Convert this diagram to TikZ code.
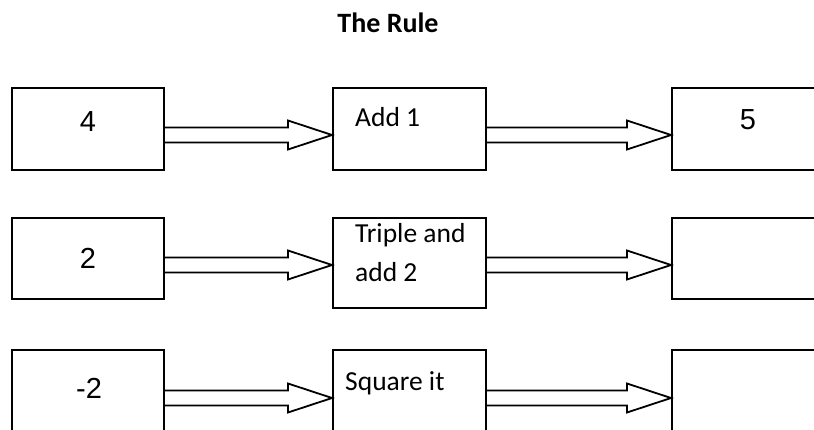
\documentclass[tikz,border=0pt]{standalone}
\usepackage{fontspec}
\setmainfont{Carlito}
\newfontfamily\handfont{Liberation Sans}
\usetikzlibrary{calc}
\newcommand\fatarr[3]{%
  \draw[fat] ($(#1.east |- #3)+(0,-7.5)$) -- ($(#2.west |- #3)+(-44,-7.5)$)
    -- ($(#2.west |- #3)+(-44,-14.5)$) -- (#2.west |- #3)
    -- ($(#2.west |- #3)+(-44,14.5)$) -- ($(#2.west |- #3)+(-44,7.5)$)
    -- ($(#1.east |- #3)+(0,7.5)$);}
\begin{document}
\begin{tikzpicture}[x=1pt,y=-1pt,
  box/.style={draw=black,line width=2pt,inner sep=0pt},
  fat/.style={draw=black,line width=1.8pt,line join=miter},
  num/.style={font=\handfont\fontsize{29}{29}\selectfont,inner sep=0pt},
  rule/.style={font=\fontsize{27.5}{32}\selectfont,inner sep=0pt,anchor=base west}]
\useasboundingbox (0,0) rectangle (814,430);
\clip (0,0) rectangle (814,430);
% title
\node[font=\bfseries\fontsize{28}{28}\selectfont,anchor=base,inner sep=0pt] (title) at (388,33) {The Rule};
% row 1
\node[box,minimum width=152pt,minimum height=82pt] (L1) at (88,129) {};
\node[box,minimum width=153pt,minimum height=82pt] (M1) at (409.5,129) {};
\node[box,minimum width=160pt,minimum height=82pt] (R1) at (752,129) {};
% row 2
\node[box,minimum width=152pt,minimum height=81pt] (L2) at (88,258.5) {};
\node[box,minimum width=153pt,minimum height=90pt] (M2) at (409.5,263) {};
\node[box,minimum width=160pt,minimum height=81pt] (R2) at (752,258.5) {};
% row 3
\node[box,minimum width=152pt,minimum height=90pt] (L3) at (88,395) {};
\node[box,minimum width=153pt,minimum height=90pt] (M3) at (409.5,395) {};
\node[box,minimum width=160pt,minimum height=90pt] (R3) at (752,395) {};
% texts
\node[num] (n4) at (88,122) {4};
\node[num] (n5) at (748,120) {5};
\node[num] (n2) at (88,258) {2};
\node[num] (nm2) at (89,388) {-2};
\node[rule] (a1) at (355,127) {Add 1};
\node[rule] (a2) at (355,243) {Triple and};
\node[rule] (a2b) at (355,282) {add 2};
\node[rule] (a3) at (345,390) {Square it};
% arrows
\coordinate (y1) at (0,135);
\coordinate (y2) at (0,265);
\coordinate (y3) at (0,398);
\fatarr{L1}{M1}{y1}
\fatarr{M1}{R1}{y1}
\fatarr{L2}{M2}{y2}
\fatarr{M2}{R2}{y2}
\fatarr{L3}{M3}{y3}
\fatarr{M3}{R3}{y3}
\end{tikzpicture}
\end{document}
